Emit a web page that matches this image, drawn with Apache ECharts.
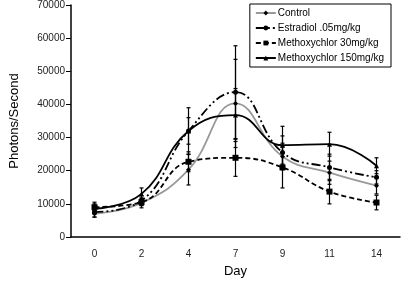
<!DOCTYPE html>
<html>
<head>
<meta charset="utf-8">
<script src="https://cdn.jsdelivr.net/npm/echarts@6/dist/echarts.min.js"></script>
<style>
  html, body { margin: 0; padding: 0; background: #fff; }
  #chart { width: 403px; height: 285px; }
</style>
</head>
<body>
<div id="chart"></div>
<script>
const days = ['0', '2', '4', '7', '9', '11', '14']

const control = [7000, 10300, 20300, 40300, 24300, 19400, 15500]
const estradiol = [7500, 11000, 32000, 43700, 25500, 21000, 18000]
const metho30 = [9000, 10500, 22700, 23900, 21000, 13700, 10400]
const metho150 = [8500, 13000, 32000, 36800, 27700, 28000, 21500]

const controlErr = [1000, 1500, 4600, 13300, 4000, 3500, 2500]
const estradiolErr = [1500, 1500, 4000, 14000, 5000, 4000, 2000]
const metho30Err = [1500, 1000, 3000, 5600, 6200, 3700, 2200]
const metho150Err = [1500, 1800, 7000, 8000, 5700, 3600, 2400]

const yTicks = { min: 0, max: 70000, interval: 10000 }

const chart = echarts.init(document.getElementById('chart'))

function lineSeries(name, data, lineStyle, symbol, symbolSize) {
  return {
    name,
    type: 'line',
    smooth: 0.45,
    symbol,
    symbolSize,
    lineStyle,
    itemStyle: { color: '#000' },
    data,
    z: 3,
  }
}

function errSeries(values, errs) {
  return {
    type: 'custom',
    silent: true,
    z: 4,
    data: values.map((v, i) => [i, v - errs[i], v + errs[i]]),
    renderItem(params, api) {
      const lo = api.coord([api.value(0), api.value(1)])
      const hi = api.coord([api.value(0), api.value(2)])
      const w = 2
      const style = { stroke: '#000', lineWidth: 1.2 }
      return {
        type: 'group',
        children: [
          { type: 'line', shape: { x1: lo[0], y1: lo[1], x2: hi[0], y2: hi[1] }, style },
          { type: 'line', shape: { x1: lo[0] - w, y1: lo[1], x2: lo[0] + w, y2: lo[1] }, style },
          { type: 'line', shape: { x1: hi[0] - w, y1: hi[1], x2: hi[0] + w, y2: hi[1] }, style },
        ],
      }
    },
  }
}

chart.setOption({
  animation: false,
  textStyle: { fontFamily: 'Liberation Sans, Arial, sans-serif' },
  grid: { left: 58, right: 3, top: 5, bottom: 48 },
  legend: {
    orient: 'vertical',
    right: 12,
    top: 4,
    backgroundColor: '#fff',
    borderColor: '#000',
    borderWidth: 1,
    borderRadius: 0,
    padding: [4, 7, 4, 5],
    itemGap: 5,
    itemWidth: 20,
    itemHeight: 6,
    textStyle: { color: '#000', fontSize: 10, padding: [0, 0, 0, -3] },
    data: ['Control', 'Estradiol .05mg/kg', 'Methoxychlor 30mg/kg', 'Methoxychlor 150mg/kg'],
  },
  xAxis: {
    type: 'category',
    data: days,
    name: 'Day',
    nameLocation: 'middle',
    nameGap: 28,
    nameTextStyle: { color: '#000', fontSize: 13 },
    axisLine: { lineStyle: { color: '#000', width: 1.5 } },
    axisTick: { show: false },
    axisLabel: { color: '#222', fontSize: 10, margin: 12 },
  },
  yAxis: {
    type: 'value',
    min: yTicks.min,
    max: yTicks.max,
    interval: yTicks.interval,
    name: 'Photons/Second',
    nameLocation: 'middle',
    nameGap: 50,
    nameTextStyle: { color: '#000', fontSize: 13 },
    axisLine: { show: true, lineStyle: { color: '#000', width: 1.5 } },
    axisTick: { show: true, length: 5, lineStyle: { color: '#000' } },
    axisLabel: { color: '#222', fontSize: 10, margin: 6, formatter: (v) => String(v) },
    splitLine: { show: false },
  },
  series: [
    lineSeries('Control', control, { color: '#999', width: 1.8 }, 'diamond', 5),
    lineSeries('Estradiol .05mg/kg', estradiol, { color: '#000', width: 1.8, type: [9, 3, 2, 3, 2, 3] }, 'circle', 5),
    lineSeries('Methoxychlor 30mg/kg', metho30, { color: '#000', width: 1.8, type: [5, 3] }, 'rect', 6),
    lineSeries('Methoxychlor 150mg/kg', metho150, { color: '#000', width: 1.8 }, 'triangle', 5),
    errSeries(control, controlErr),
    errSeries(estradiol, estradiolErr),
    errSeries(metho30, metho30Err),
    errSeries(metho150, metho150Err),
  ],
})
</script>
</body>
</html>
